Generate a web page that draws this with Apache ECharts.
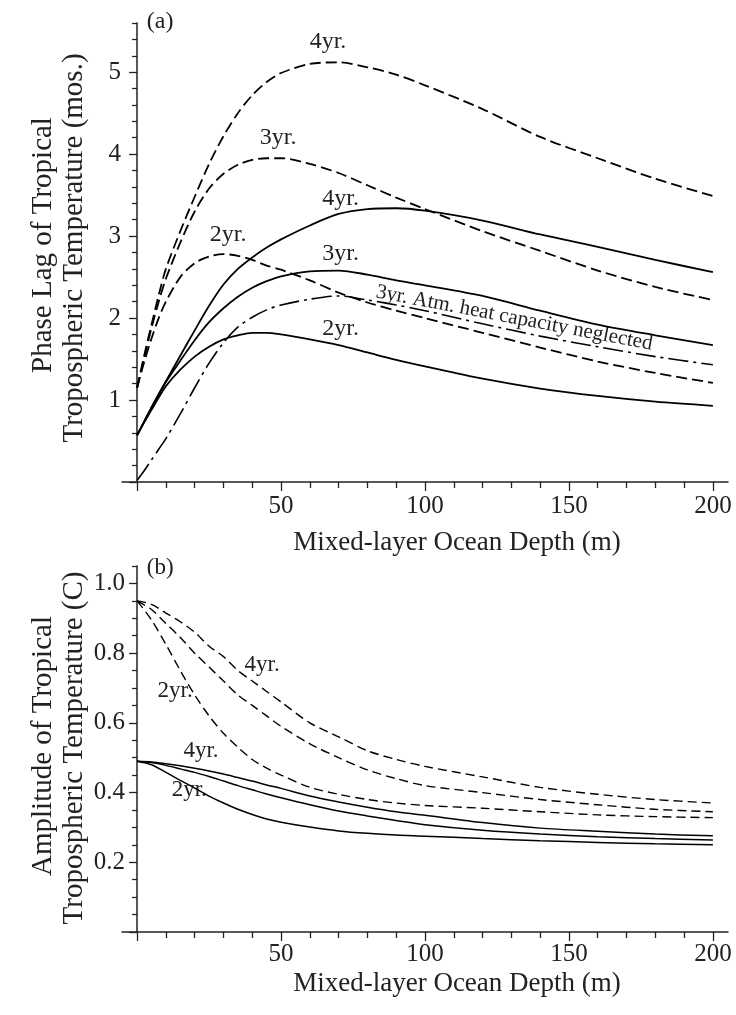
<!DOCTYPE html>
<html>
<head>
<meta charset="utf-8">
<script src="https://cdn.jsdelivr.net/npm/echarts@6/dist/echarts.min.js"></script>
<style>html,body{margin:0;padding:0;background:#fff}#c{width:736px;height:1015px}</style>
</head>
<body>
<div id="c"></div>
<script>
// ---------- DATA (panel a: phase lag, months) ----------
const depthA = [0,2.5,5,7.5,10,15,20,25,30,35,40,45,50,60,70,80,90,100,120,140,160,180,200];
const phase4yrDashed = [1.15,1.55,1.92,2.28,2.6,3.06,3.48,3.88,4.22,4.5,4.72,4.88,4.99,5.1,5.12,5.06,4.97,4.84,4.55,4.21,3.95,3.70,3.49];
const phase3yrDashed = [1.15,1.52,1.88,2.2,2.48,2.92,3.3,3.58,3.76,3.87,3.93,3.95,3.95,3.88,3.77,3.62,3.47,3.33,3.06,2.82,2.58,2.38,2.22];
const phase2yrDashed = [1.15,1.47,1.75,2.0,2.2,2.5,2.67,2.75,2.78,2.76,2.71,2.64,2.59,2.46,2.31,2.19,2.09,2.0,1.82,1.64,1.47,1.33,1.21];
const phase4yrSolid  = [0.57,0.74,0.91,1.07,1.23,1.54,1.85,2.15,2.41,2.6,2.74,2.86,2.96,3.13,3.27,3.33,3.34,3.31,3.19,3.02,2.87,2.71,2.56];
const phase3yrSolid  = [0.57,0.74,0.91,1.07,1.22,1.48,1.73,1.95,2.12,2.26,2.37,2.45,2.51,2.57,2.58,2.53,2.46,2.4,2.27,2.09,1.92,1.79,1.67];
const phase2yrSolid  = [0.57,0.73,0.88,1.03,1.17,1.37,1.53,1.65,1.74,1.79,1.82,1.82,1.8,1.74,1.67,1.58,1.49,1.41,1.26,1.14,1.05,0.98,0.93];
const phase3yrNoAtmCap = [0.02,0.14,0.27,0.4,0.53,0.83,1.15,1.45,1.7,1.89,2.01,2.1,2.16,2.23,2.27,2.22,2.16,2.09,1.93,1.78,1.65,1.53,1.43];

// ---------- DATA (panel b: amplitude, C) ----------
const depthB = [0,5,10,15,20,25,30,35,40,45,50,60,70,80,90,100,120,140,160,180,200];
const amp4yrDashed = [0.95,0.94,0.915,0.89,0.86,0.82,0.79,0.75,0.72,0.69,0.66,0.6,0.56,0.52,0.495,0.475,0.445,0.415,0.395,0.38,0.37];
const amp3yrDashed = [0.95,0.925,0.885,0.845,0.80,0.76,0.72,0.68,0.65,0.62,0.59,0.54,0.5,0.465,0.44,0.42,0.4,0.38,0.365,0.352,0.345];
const amp2yrDashed = [0.95,0.895,0.825,0.75,0.68,0.62,0.57,0.53,0.495,0.47,0.45,0.415,0.395,0.38,0.37,0.363,0.355,0.345,0.336,0.331,0.328];
const amp4yrSolid  = [0.49,0.488,0.483,0.477,0.47,0.462,0.453,0.443,0.433,0.422,0.412,0.39,0.373,0.358,0.345,0.335,0.314,0.298,0.289,0.281,0.276];
const amp3yrSolid  = [0.49,0.486,0.478,0.468,0.458,0.446,0.433,0.42,0.408,0.396,0.385,0.365,0.347,0.333,0.32,0.308,0.292,0.281,0.273,0.268,0.264];
const amp2yrSolid  = [0.49,0.48,0.458,0.435,0.413,0.39,0.37,0.352,0.337,0.324,0.315,0.301,0.29,0.283,0.278,0.275,0.268,0.262,0.257,0.253,0.25];

// ---------- TICKS / TEXT ----------
const xMajorTicks = [0,50,100,150,200];
const xTickLabels = [50,100,150,200];
const yTickLabelsA = [1,2,3,4,5];
const yTickLabelsB = [0.2,0.4,0.6,0.8,1.0];
const xTitle = 'Mixed-layer Ocean Depth (m)';
const yTitleA = ['Phase Lag of Tropical', 'Tropospheric Temperature (mos.)'];
const yTitleB = ['Amplitude of Tropical', 'Tropospheric Temperature (C)'];
// curve annotations: [text, depth, value, align]
const notesA = [
  ['(a)', 8, 5.62, 'center'],
  ['4yr.', 66.3, 5.37, 'center'],
  ['3yr.', 49, 4.2, 'center'],
  ['2yr.', 31.6, 3.02, 'center'],
  ['4yr.', 64.3, 3.46, 'left'],
  ['3yr.', 64.3, 2.79, 'left'],
  ['2yr.', 64.3, 1.87, 'left']
];
const notesB = [
  ['(b)', 8, 1.045, 'center'],
  ['4yr.', 43.4, 0.765, 'center'],
  ['2yr.', 13.2, 0.691, 'center'],
  ['4yr.', 22.2, 0.519, 'center'],
  ['2yr.', 18.1, 0.407, 'center']
];
const noAtmNote = ['3yr. Atm. heat capacity neglected', 131.0, 2.0];

// ---------- BUILD ----------
const FONT = '"Liberation Serif", "Times New Roman", serif';
const INK = '#222';
const pairs = (xs, ys) => xs.map((x, i) => [x, ys[i]]);
const range = (a, b, s) => { const r = []; for (let v = a; v <= b + 1e-9; v += s) r.push(+v.toFixed(4)); return r; };
const xMinor = range(0, 200, 10).filter(v => v % 50 !== 0);
const yMinorA = range(0, 5.6, 0.2).filter(v => Math.abs(v - Math.round(v)) > 1e-6);
const yMajorA = range(0, 5, 1);
const yMajorB = range(0, 1.0, 0.2);
const yMinorB = range(0, 1.05, 0.05).filter(v => Math.abs(v * 5 - Math.round(v * 5)) > 1e-6);

const axisLineStyle = { color: INK, width: 1.5 };
function xPair(grid, margin) {
  return [
    { gridIndex: grid, type: 'value', min: -5.25, max: 205.25, position: 'bottom',
      axisLine: { onZero: false, lineStyle: axisLineStyle },
      axisTick: { customValues: xMajorTicks, length: 9, lineStyle: { color: INK, width: 1.3 } },
      axisLabel: { customValues: xTickLabels, margin: margin, fontSize: 25, fontFamily: FONT, color: INK },
      splitLine: { show: false } },
    { gridIndex: grid, type: 'value', min: -5.25, max: 205.25, position: 'bottom',
      axisLine: { show: false, onZero: false },
      axisTick: { customValues: xMinor, length: 6, lineStyle: { color: INK, width: 1.3 } },
      axisLabel: { show: false }, splitLine: { show: false } }
  ];
}
function yPair(grid, max, major, minor, labels, margin, onZeroIdx, fmt) {
  return [
    { gridIndex: grid, type: 'value', min: 0, max: max, position: 'left',
      axisLine: { onZero: true, onZeroAxisIndex: onZeroIdx, lineStyle: axisLineStyle },
      axisTick: { customValues: major, length: 8, lineStyle: { color: INK, width: 1.3 } },
      axisLabel: { customValues: labels, margin: margin, fontSize: 25, fontFamily: FONT, color: INK, formatter: fmt },
      splitLine: { show: false } },
    { gridIndex: grid, type: 'value', min: 0, max: max, position: 'left',
      axisLine: { show: false, onZero: true, onZeroAxisIndex: onZeroIdx },
      axisTick: { customValues: minor, length: 5, lineStyle: { color: INK, width: 1.3 } },
      axisLabel: { show: false }, splitLine: { show: false } }
  ];
}

const DASH_A = [11, 5], DASH_B = [9, 5], DASHDOT = [20, 5, 3, 5];
function line(name, xs, ys, axisIdx, type, width) {
  return { name, type: 'line', xAxisIndex: axisIdx, yAxisIndex: axisIdx, data: pairs(xs, ys),
    showSymbol: false, symbol: 'none', smooth: 0.3, silent: true,
    lineStyle: { color: '#000', width: width, type: type } };
}

const option = {
  animation: false,
  backgroundColor: '#fff',
  grid: [
    { left: 122, top: 23, width: 606, height: 459, containLabel: false, outerBoundsMode: 'none' },
    { left: 122, top: 566, width: 606, height: 366, containLabel: false, outerBoundsMode: 'none' }
  ],
  xAxis: [...xPair(0, 12), ...xPair(1, 10)],
  yAxis: [
    ...yPair(0, 5.6, yMajorA, yMinorA, yTickLabelsA, 1, 0, v => String(v)),
    ...yPair(1, 1.05, yMajorB, yMinorB, yTickLabelsB, -3, 2, v => v.toFixed(1))
  ],
  series: [
    line('4yr dashed', depthA, phase4yrDashed, 0, DASH_A, 1.8),
    line('3yr dashed', depthA, phase3yrDashed, 0, DASH_A, 1.8),
    line('2yr dashed', depthA, phase2yrDashed, 0, DASH_A, 1.8),
    line('4yr', depthA, phase4yrSolid, 0, 'solid', 1.8),
    line('3yr', depthA, phase3yrSolid, 0, 'solid', 1.8),
    line('2yr', depthA, phase2yrSolid, 0, 'solid', 1.8),
    line('3yr atm heat capacity neglected', depthA, phase3yrNoAtmCap, 0, DASHDOT, 1.6),
    line('4yr dashed b', depthB, amp4yrDashed, 2, DASH_B, 1.4),
    line('3yr dashed b', depthB, amp3yrDashed, 2, DASH_B, 1.4),
    line('2yr dashed b', depthB, amp2yrDashed, 2, DASH_B, 1.4),
    line('4yr b', depthB, amp4yrSolid, 2, 'solid', 1.5),
    line('3yr b', depthB, amp3yrSolid, 2, 'solid', 1.5),
    line('2yr b', depthB, amp2yrSolid, 2, 'solid', 1.5)
  ]
};

const chart = echarts.init(document.getElementById('c'), null, { renderer: 'canvas' });
chart.setOption(option);

function txt(text, x, y, size, align, rotation) {
  return { type: 'text', x: x, y: y, rotation: rotation || 0, silent: true,
    style: { text: text, x: 0, y: 0, fill: INK, font: size + 'px ' + FONT,
      align: align || 'center', textAlign: align || 'center',
      verticalAlign: 'middle', textVerticalAlign: 'middle' } };
}
const g = [];
notesA.forEach(n => { const p = chart.convertToPixel({ xAxisIndex: 0, yAxisIndex: 0 }, [n[1], n[2]]); g.push(txt(n[0], p[0], p[1], 24, n[3])); });
notesB.forEach(n => { const p = chart.convertToPixel({ xAxisIndex: 2, yAxisIndex: 2 }, [n[1], n[2]]); g.push(txt(n[0], p[0], p[1], 23, n[3])); });
{ const p = chart.convertToPixel({ xAxisIndex: 0, yAxisIndex: 0 }, [noAtmNote[1], noAtmNote[2]]);
  g.push(txt(noAtmNote[0], p[0], p[1], 21, 'center', -10.8 * Math.PI / 180)); }
// axis titles
g.push(txt(xTitle, 457, 543, 27, 'center'));
g.push(txt(xTitle, 457, 984, 27, 'center'));
g.push(txt(yTitleA[0], 43, 245, 29, 'center', Math.PI / 2));
g.push(txt(yTitleA[1], 74, 248, 29, 'center', Math.PI / 2));
g.push(txt(yTitleB[0], 43, 746, 29, 'center', Math.PI / 2));
g.push(txt(yTitleB[1], 74, 748, 29, 'center', Math.PI / 2));
chart.setOption({ graphic: g });
</script>
</body>
</html>
